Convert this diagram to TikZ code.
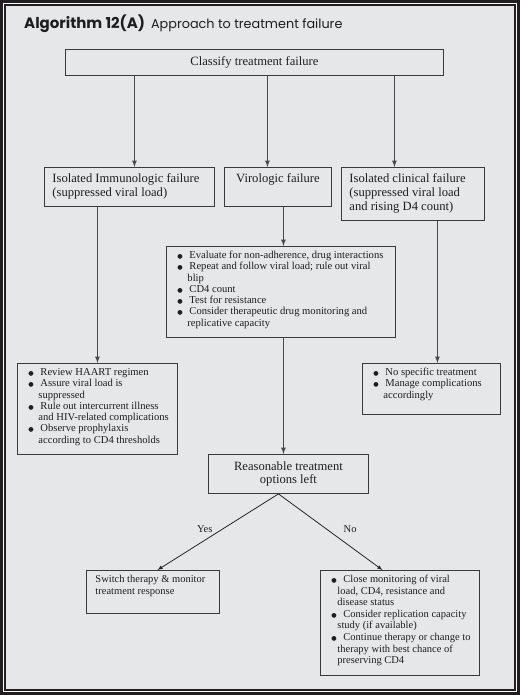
\documentclass[tikz,border=0pt]{standalone}
\usepackage{fontspec}
\setmainfont{Liberation Serif}
\newfontfamily\titlefont{Poppins}
\newfontfamily\symfont{DejaVu Sans}
\usetikzlibrary{arrows}

\definecolor{panel}{HTML}{E6E7E8}
\definecolor{frame}{HTML}{231F20}
\definecolor{boxln}{HTML}{3A3A3A}
\definecolor{lnc}{HTML}{4A4A4A}
\definecolor{txt}{HTML}{1E1E1E}

\newlength{\hangw}
\setlength{\hangw}{21pt}
\newcommand{\bigtxt}{\fontsize{12.6}{14}\selectfont}
\newcommand{\smalltxt}{\fontsize{10.6}{11.3}\selectfont}
% fixed size box, first baseline at #3 from the top
\newcommand{\boxtxt}[4]{\parbox[c][#2][t]{#1}{\raggedright\vspace*{\dimexpr#3-\ht\strutbox\relax}#4}}
\newcommand{\blt}{{\symfont\fontsize{6.2}{7}\selectfont ●}}
\newcommand{\itm}{\par\noindent\hangindent=\hangw\hangafter=1\strut\hspace*{11pt}\makebox[12pt][l]{\blt}}

\begin{document}
\begin{tikzpicture}[x=1pt, y=-1pt,
    box/.style={draw=boxln, line width=0.9pt, inner sep=0pt, anchor=north west, text=txt, font=\bigtxt},
    lst/.style={box, font=\smalltxt},
    arr/.style={draw=lnc, line width=1.2pt, -latex},
    fork/.style={draw=black!85, line width=0.8pt, -latex},
    lbl/.style={inner sep=0pt, text=txt, font=\fontsize{10.5}{12}\selectfont}]

\useasboundingbox (0,0) rectangle (520,695);
% frame
\fill[frame] (0,0) rectangle (520,695);
\draw[white, line width=0.9pt] (3.5,3.5) rectangle (516.8,691.5);
\fill[panel] (6,6) rectangle (513.5,689);

\node[anchor=base west, inner sep=0pt, text=txt, font=\titlefont] (title) at (24,29)
    {{\fontsize{15}{16}\selectfont\bfseries Algorithm 12(A)}\hspace{6pt}{\fontsize{12.8}{16}\selectfont Approach to treatment failure}};

\node[box, minimum width=378pt, minimum height=26pt] (cls) at (65,49) {Classify treatment failure};

% three kinds of failure
\node[box] (imm) at (44,167) {\boxtxt{170pt}{39pt}{15pt}{\leftskip=8pt\strut Isolated Immunologic failure\newline (suppressed viral load)}};
\node[box] (vir) at (224,167) {\boxtxt{107pt}{39pt}{15pt}{\centering\strut Virologic failure}};
\node[box] (cli) at (341,167) {\boxtxt{143pt}{53pt}{15pt}{\leftskip=8pt\strut Isolated clinical failure\newline (suppressed viral load\newline and rising D4 count)}};

\node[lst] (eval) at (166,246) {\boxtxt{229pt}{91pt}{12pt}{%
    \itm Evaluate for non-adherence, drug interactions
    \itm Repeat and follow viral load; rule out viral\newline blip
    \itm CD4 count
    \itm Test for resistance
    \itm Consider therapeutic drug monitoring and\newline replicative capacity}};

\node[lst] (revw) at (17,363) {\boxtxt{160pt}{91pt}{12pt}{%
    \itm Review HAART regimen
    \itm Assure viral load is\newline suppressed
    \itm Rule out intercurrent illness\newline and HIV-related complications
    \itm Observe prophylaxis\newline according to CD4 thresholds}};

\node[lst] (nospec) at (362,363) {\boxtxt{138pt}{51pt}{12pt}{%
    \itm No specific treatment
    \itm Manage complications\newline accordingly}};

\node[box, minimum width=160pt, minimum height=39pt, align=center, font=\fontsize{12.6}{13.3}\selectfont] (reas) at (208,454)
    {Reasonable treatment\\options left};

\node[box, font=\fontsize{10.5}{12}\selectfont] (switch) at (86,570) {\boxtxt{133pt}{43pt}{12pt}{\leftskip=9pt\strut Switch therapy \& monitor\newline treatment response}};

\node[box, font=\fontsize{10.5}{11.6}\selectfont] (close) at (320,570) {\boxtxt{159pt}{105pt}{12pt}{\setlength{\hangw}{17pt}%
    \itm Close monitoring of viral\newline load, CD4, resistance and\newline disease status
    \itm Consider replication capacity\newline study (if available)
    \itm Continue therapy or change to\newline therapy with best chance of\newline preserving CD4}};

% connectors
\foreach \n/\dx in {imm/5, vir/-10.5, cli/-18.5}{
    \coordinate (\n-in) at ([xshift=\dx pt]\n.north);
    \draw[arr] (\n-in |- cls.south) -- (\n-in);
}
\draw[arr] (revw.north |- imm.south) -- (revw.north);
\coordinate (eval-in) at ([xshift=2.5pt]eval.north);
\draw[arr] (eval-in |- vir.south) -- (eval-in);
\coordinate (nospec-in) at ([xshift=6pt]nospec.north);
\draw[arr] (nospec-in |- cli.south) -- (nospec-in);
\coordinate (reas-in) at ([xshift=-5pt]reas.north);
\draw[arr] (reas-in |- eval.south) -- (reas-in);

% yes / no
\coordinate (split) at ([xshift=-10pt]reas.south);
\draw[fork] (split) -- node[lbl, pos=0.46, left=10pt] {Yes} ([xshift=4.5pt]switch.north);
\draw[fork] (split) -- node[lbl, pos=0.46, right=17pt] {No} ([xshift=-17.5pt]close.north);
\end{tikzpicture}
\end{document}
